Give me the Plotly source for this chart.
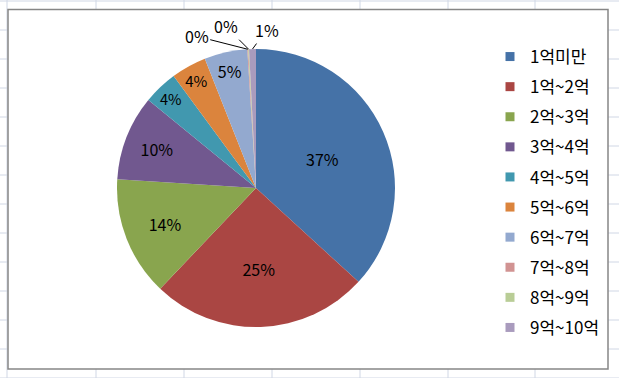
import math
import plotly.graph_objects as go

# ---- data ----
categories = ['1억미만', '1억~2억', '2억~3억', '3억~4억', '4억~5억',
              '5억~6억', '6억~7억', '7억~8억', '8억~9억', '9억~10억']
values = [36.8, 25.3, 13.9, 9.9, 4.0, 4.1, 5.0, 0.1, 0.1, 0.8]
colors = ['#4572A7', '#AA4643', '#89A54E', '#71588F', '#4198AF',
          '#DB843D', '#93A9CF', '#D19392', '#B9CD96', '#A99BBD']

FONT = 'Noto Sans CJK KR'
W, H = 619, 378
CX, CY, R = 256, 188, 139  # pie geometry in pixels (from top-left)


def px(x):
    return x / W


def py(y):
    return 1 - y / H


fig = go.Figure()

small = [v < 2 for v in values]
fig.add_trace(go.Pie(
    labels=categories, values=values, sort=False, direction='clockwise', rotation=0,
    marker=dict(colors=colors, line=dict(width=0)),
    texttemplate='%{percent:.0%}',
    textposition=['none' if s else 'inside' for s in small],
    insidetextorientation='horizontal',
    insidetextfont=dict(family=FONT, size=16, color='black'),
    domain=dict(x=[px(CX - R), px(CX + R)], y=[py(CY + R), py(CY - R)]),
    showlegend=False, hoverinfo='skip'))

# legend entries
for i, (c, col) in enumerate(zip(categories, colors)):
    fig.add_trace(go.Scatter(x=[None], y=[None], mode='markers', name=c,
                             legendgroup='g%d' % i, showlegend=True,
                             marker=dict(symbol='square', size=9, color=col)))

# outside labels for the tiny slices, with leader lines
total = sum(values)
cum = 0
label_offsets = {7: (-51, -13), 8: (-23, -23), 9: (14, -19)}
annotations = []
for i, v in enumerate(values):
    mid = (cum + v / 2) / total * 2 * math.pi
    cum += v
    if small[i]:
        ex = CX + R * math.sin(mid)
        ey = CY - R * math.cos(mid)
        ax, ay = label_offsets[i]
        pct = round(v / total * 100)
        annotations.append(dict(x=px(ex), y=py(ey), xref='paper', yref='paper',
                                text='%d%%' % pct, showarrow=True, arrowhead=0,
                                arrowwidth=1, arrowcolor='#000000', ax=ax, ay=ay,
                                standoff=0, font=dict(family=FONT, size=16, color='black')))

# background: spreadsheet grid + chart frame
shapes = []
grid_col = '#D0D7E5'
for gx in [7, 96, 184, 272, 360, 448, 535]:
    shapes.append(dict(type='line', xref='paper', yref='paper', x0=px(gx), x1=px(gx),
                       y0=0, y1=1, line=dict(color=grid_col, width=1), layer='below'))
for k in range(14):
    gy = 1 + 29 * k
    shapes.append(dict(type='line', xref='paper', yref='paper', x0=0, x1=1,
                       y0=py(gy), y1=py(gy), line=dict(color=grid_col, width=1), layer='below'))
shapes.append(dict(type='rect', xref='paper', yref='paper', x0=px(8), x1=px(608),
                   y0=py(369), y1=py(9.5), fillcolor='white',
                   line=dict(color='#868686', width=1.5), layer='below'))

fig.update_layout(
    width=W, height=H, margin=dict(l=0, r=0, t=0, b=0),
    paper_bgcolor='white', plot_bgcolor='rgba(0,0,0,0)',
    xaxis=dict(visible=False), yaxis=dict(visible=False),
    showlegend=True,
    legend=dict(x=px(490), y=py(39), xanchor='left', yanchor='top',
                traceorder='grouped', tracegroupgap=5,
                font=dict(family=FONT, size=17, color='black'),
                bgcolor='rgba(0,0,0,0)', borderwidth=0),
    shapes=shapes, annotations=annotations,
    font=dict(family=FONT),
)

fig.write_html('out.html')
